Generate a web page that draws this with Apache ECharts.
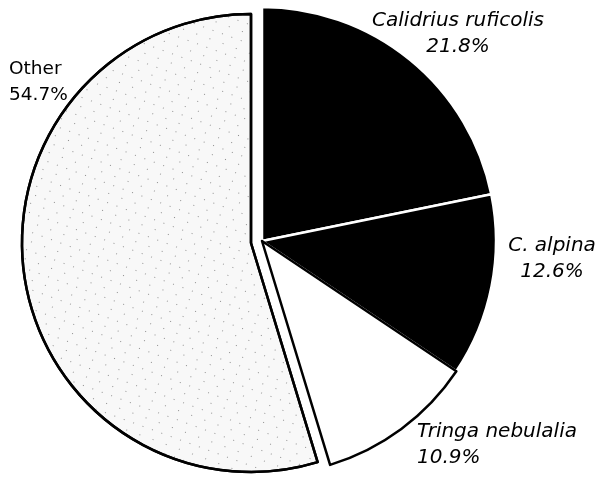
<!DOCTYPE html>
<html><head><meta charset="utf-8">
<script src="https://cdn.jsdelivr.net/npm/echarts@6/dist/echarts.min.js"></script>
<style>html,body{margin:0;padding:0;background:#fff}#c{width:601px;height:477px}</style>
</head><body><div id="c"></div>
<script>
const categories = ['Calidrius ruficolis', 'C. alpina', 'Tringa nebulalia', 'Other'];
const values = [21.8, 12.6, 10.9, 54.7];
const labelTexts = ['21.8%', '12.6%', '10.9%', '54.7%'];

const styles = [
  {color:'#000', borderColor:'#fff', borderWidth:2.5},
  {color:'#000', borderColor:'#fff', borderWidth:2.5},
  {color:'#fff', borderColor:'#000', borderWidth:2.5},
  {color:'#f8f8f8', borderColor:'#000', borderWidth:2.5,
   decal:{symbol:'rect', symbolSize:1, color:'rgba(60,60,60,0.55)', dashArrayX:[[1,9],[1,13]], dashArrayY:[1,8], rotation:0.35}}
];
const hiddenStyle = {color:'rgba(0,0,0,0)', borderWidth:0};
const labelPos = [
  {x:458, y:34, align:'center'},
  {x:552, y:259, align:'center'},
  {x:417, y:445, align:'left'},
  {x:9, y:82, align:'left'}
];
const italic = [true, true, true, false];
const explodedIndex = 3;

function makeSeries(center, radius, showIdx) {
  return {
    type:'pie',
    center:center,
    radius:[0,radius],
    startAngle:90,
    clockwise:true,
    silent:true,
    label:{show:true, color:'#000', fontFamily:'DejaVu Sans, sans-serif', fontSize:19, lineHeight:26,
      overflow:'none', width:300,
      formatter:p=>p.name+'\n'+labelTexts[p.dataIndex]},
    labelLine:{show:false},
    labelLayout:function(params){
      const p = labelPos[params.dataIndex];
      return {x:p.x, y:p.y, align:p.align, verticalAlign:'middle'};
    },
    emphasis:{disabled:true},
    data:categories.map((c,i)=>({
      name:c, value:values[i],
      itemStyle: showIdx(i) ? styles[i] : hiddenStyle,
      label:{show: showIdx(i), fontStyle: italic[i]?'italic':'normal', fontSize: italic[i]?20:18.5, align:labelPos[i].align},
      labelLine:{show:false}
    }))
  };
}

const chart = echarts.init(document.getElementById('c'));
chart.setOption({
  animation:false,
  series:[
    makeSeries([262,241], 234, i => i !== explodedIndex),
    makeSeries([251,243], 229, i => i === explodedIndex)
  ]
});
</script></body></html>
